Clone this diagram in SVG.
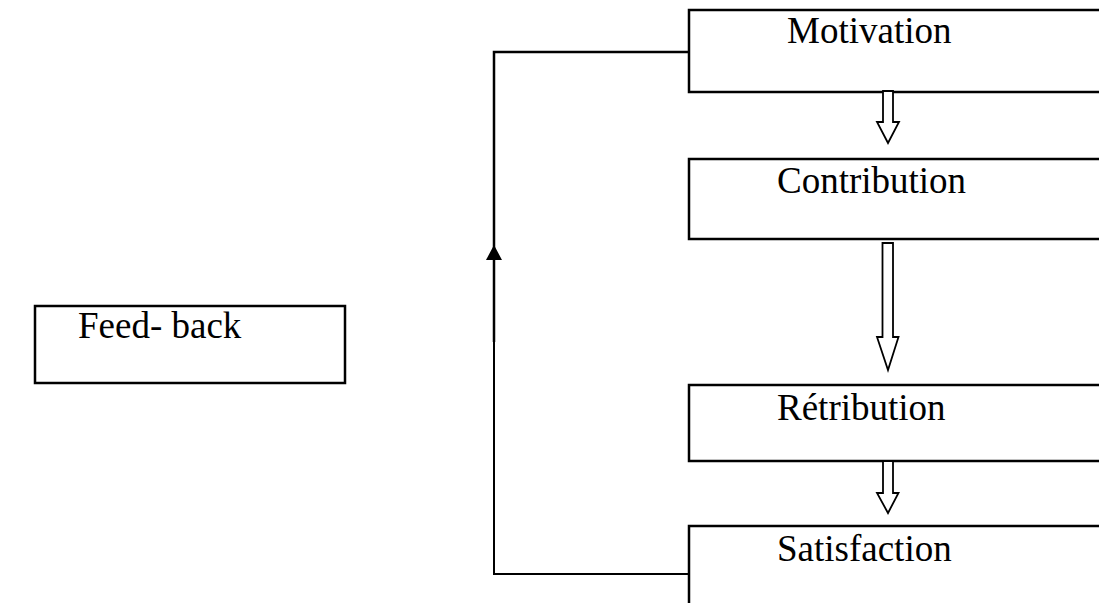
<svg xmlns="http://www.w3.org/2000/svg" width="1099" height="603" viewBox="0 0 1099 603">
<style>
.box{fill:#fff;stroke:#000;stroke-width:2.5}
.lbl{font-family:"Liberation Serif","Times New Roman",serif;font-size:37px;fill:#000}
.hollow{fill:#fff;stroke:#000;stroke-width:1.8;stroke-linejoin:miter}
.line{fill:none;stroke:#000}
</style>
<rect width="1099" height="603" fill="#fff"/>
<g id="feedback">
<rect class="box" x="35" y="306" width="310" height="77"/>
<text class="lbl" x="78" y="338">Feed- back</text>
</g>
<g id="motivation">
<rect class="box" x="689" y="10" width="500" height="82"/>
<text class="lbl" x="787" y="43">Motivation</text>
</g>
<g id="contribution">
<rect class="box" x="689" y="159" width="500" height="80"/>
<text class="lbl" x="777" y="193">Contribution</text>
</g>
<g id="retribution">
<rect class="box" x="689" y="385" width="500" height="76"/>
<text class="lbl" x="777" y="420">Rétribution</text>
</g>
<g id="satisfaction">
<rect class="box" x="689" y="526" width="500" height="120"/>
<text class="lbl" x="777" y="561">Satisfaction</text>
</g>
<g id="connectors">
<path class="hollow" d="M883,91 L893,91 L893,122 L899,122 L888,143 L877,122 L883,122 Z"/>
<path class="hollow" d="M882.5,243 L893,243 L893,337 L898.5,337 L888,370 L877,337 L882.5,337 Z"/>
<path class="hollow" d="M883,461 L893,461 L893,493 L898.5,493 L888,513 L877,493 L883,493 Z"/>
<path class="line" stroke-width="2" d="M689,574 H494 V342"/>
<path class="line" stroke-width="2.5" d="M494,342 V52 H689"/>
<polygon points="486,260 502,260 494,245" fill="#000"/>
</g>
</svg>
